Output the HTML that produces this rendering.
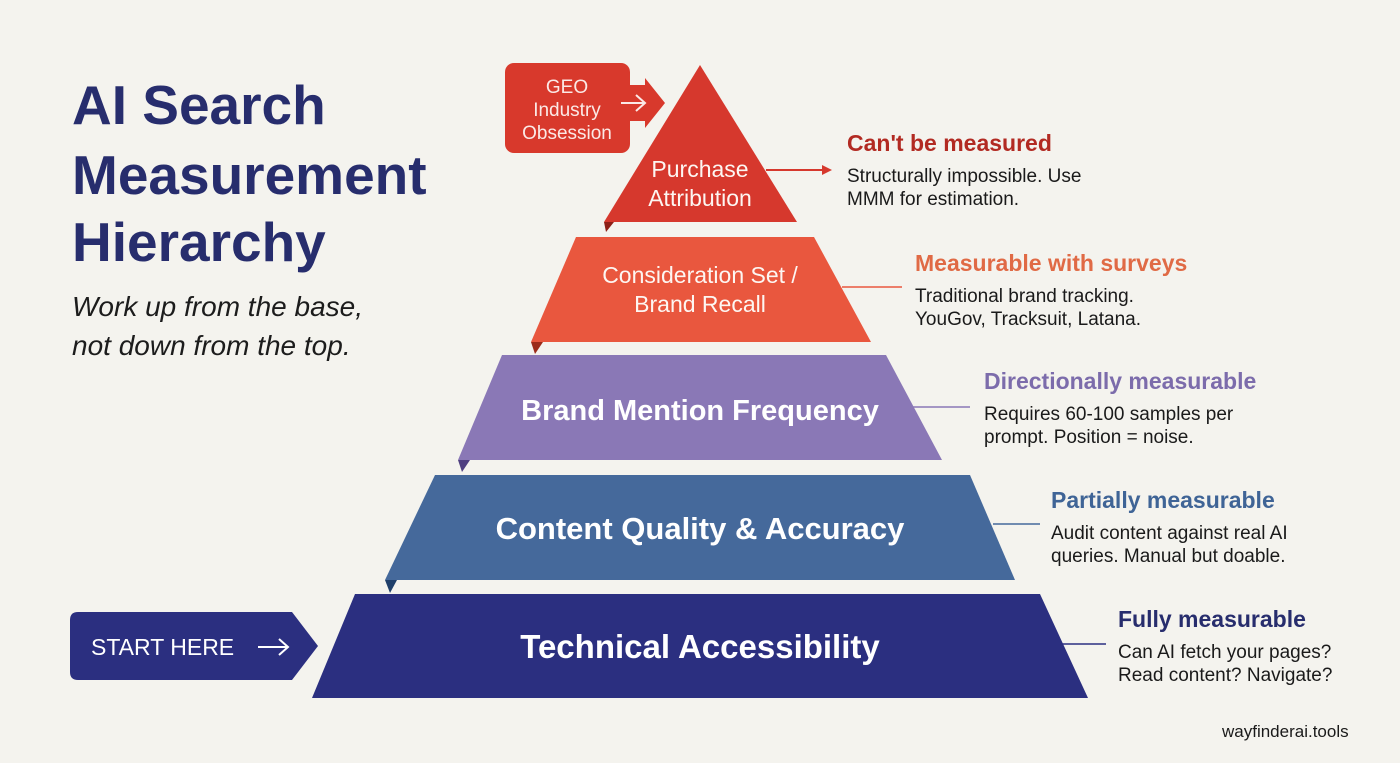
<!DOCTYPE html>
<html><head><meta charset="utf-8"><style>
html,body{margin:0;padding:0;background:#f4f3ee;}
svg{display:block;}
</style></head><body>
<svg width="1400" height="763" viewBox="0 0 1400 763" xmlns="http://www.w3.org/2000/svg" font-family="Liberation Sans, sans-serif">
<rect width="1400" height="763" fill="#f4f3ee"/>
<!-- Title -->
<g fill="#272d6d" font-weight="bold" font-size="55">
<text x="72" y="124">AI Search</text>
<text x="72" y="194">Measurement</text>
<text x="72" y="261">Hierarchy</text>
</g>
<g fill="#1c1c1c" font-style="italic" font-size="28">
<text x="72" y="316">Work up from the base,</text>
<text x="72" y="355">not down from the top.</text>
</g>
<!-- GEO box -->
<rect x="505" y="63" width="125" height="90" rx="9" fill="#d8392c"/>
<polygon points="628,85 645,85 645,78 665,103 645,128 645,121 628,121" fill="#d8392c"/>
<g fill="#fbe9e6" font-size="19" text-anchor="middle">
<text x="567" y="93">GEO</text>
<text x="567" y="116">Industry</text>
<text x="567" y="139">Obsession</text>
</g>
<path d="M621 103 H644 M636 95 L645 103 L636 111" stroke="#fbe9e6" stroke-width="2" fill="none"/>
<!-- tiers -->
<polygon points="700,65 797,222 604,222" fill="#d6382d"/>
<polygon points="604,222 614,222 606,232" fill="#8e1f17"/>
<polygon points="576,237 814,237 871,342 531,342" fill="#e9573e"/>
<polygon points="531,342 543,342 535,354" fill="#9c2b1a"/>
<polygon points="502,355 886,355 942,460 458,460" fill="#8a78b6"/>
<polygon points="458,460 470,460 462,472" fill="#4f3f80"/>
<polygon points="435,475 970,475 1015,580 385,580" fill="#45699b"/>
<polygon points="385,580 397,580 390,593" fill="#1f3f6a"/>
<polygon points="355,594 1040,594 1088,698 312,698" fill="#2b2f80"/>
<!-- tier labels -->
<g fill="#fdf6f2" text-anchor="middle" font-size="23">
<text x="700" y="177">Purchase</text>
<text x="700" y="206">Attribution</text>
<text x="700" y="283">Consideration Set /</text>
<text x="700" y="312">Brand Recall</text>
</g>
<g fill="#ffffff" text-anchor="middle" font-weight="bold">
<text x="700" y="420" font-size="29">Brand Mention Frequency</text>
<text x="700" y="539" font-size="31">Content Quality &amp; Accuracy</text>
<text x="700" y="658" font-size="33">Technical Accessibility</text>
</g>
<!-- connectors -->
<path d="M766 170 H825" stroke="#d6382d" stroke-width="2"/>
<polygon points="832,170 822,165 822,175" fill="#d6382d"/>
<path d="M842 287 H902" stroke="#e9573e" stroke-width="1.5"/>
<path d="M912 407 H970" stroke="#8a78b6" stroke-width="1.5"/>
<path d="M993 524 H1040" stroke="#45699b" stroke-width="1.5"/>
<path d="M1062 644 H1106" stroke="#2b2f80" stroke-width="1.5"/>
<!-- right texts -->
<g font-size="19" fill="#1a1a1a">
<g font-size="23" font-weight="bold">
<text x="847" y="151" fill="#b22a22">Can't be measured</text>
<text x="915" y="271" fill="#e06a45">Measurable with surveys</text>
<text x="984" y="389" fill="#7c6cab">Directionally measurable</text>
<text x="1051" y="508" fill="#3f6496">Partially measurable</text>
<text x="1118" y="627" fill="#272d6d">Fully measurable</text>
</g>
<text x="847" y="182">Structurally impossible. Use</text>
<text x="847" y="205">MMM for estimation.</text>
<text x="915" y="302">Traditional brand tracking.</text>
<text x="915" y="325">YouGov, Tracksuit, Latana.</text>
<text x="984" y="420">Requires 60-100 samples per</text>
<text x="984" y="443">prompt. Position = noise.</text>
<text x="1051" y="539">Audit content against real AI</text>
<text x="1051" y="562">queries. Manual but doable.</text>
<text x="1118" y="658">Can AI fetch your pages?</text>
<text x="1118" y="681">Read content? Navigate?</text>
<text x="1222" y="737" font-size="17">wayfinderai.tools</text>
</g>
<!-- start here -->
<path d="M78 612 H292 L318 646 L292 680 H78 Q70 680 70 672 V620 Q70 612 78 612 Z" fill="#2b2f80"/>
<text x="91" y="655" font-size="23" fill="#ffffff">START HERE</text>
<path d="M258 647 H287 M279 639 L288 647 L279 655" stroke="#fff" stroke-width="2" fill="none"/>
</svg>
</body></html>
